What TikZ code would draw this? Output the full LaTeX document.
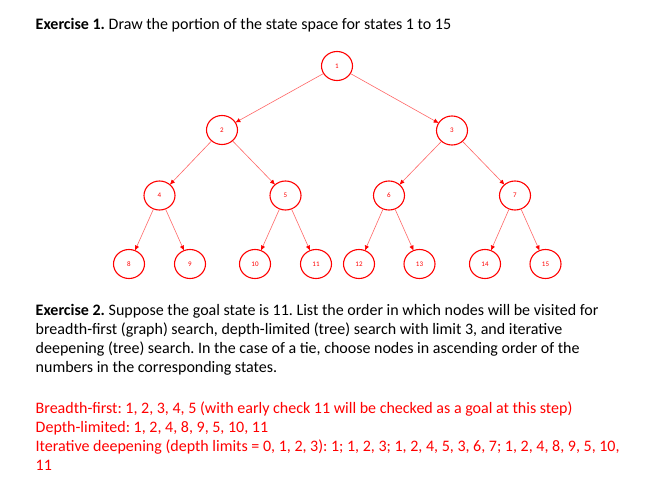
\documentclass[tikz,border=0pt]{standalone}
\usepackage{fontspec}
\setmainfont{Carlito}
\frenchspacing
\usetikzlibrary{arrows.meta,shapes.geometric}
\begin{document}
\begin{tikzpicture}[x=1pt,y=-1pt,
  st/.style={ellipse,draw=red,line width=1.1pt,minimum width=31pt,minimum height=29pt,inner sep=0pt,text=red,font=\fontsize{7}{8}\selectfont},
  ed/.style={draw=red!60,line width=0.6pt,-{Latex[length=5pt,width=4.5pt,color=red]},shorten >=-0.5pt},
  txt/.style={anchor=base west,inner sep=0pt,font=\fontsize{16}{19}\selectfont},
  rtxt/.style={txt,text=red}]
\useasboundingbox (0,0) rectangle (646,480);
\node[txt] (t1) at (35.5,29.5) {\textbf{Exercise 1.} Draw the portion of the state space for states 1 to 15};
\node[st] (n1) at (337,66) {1};
\node[st] (n2) at (222,130) {2};
\node[st] (n3) at (452,130.5) {3};
\node[st] (n4) at (159.5,195.5) {4};
\node[st] (n5) at (285.5,195.5) {5};
\node[st] (n6) at (389,195.5) {6};
\node[st] (n7) at (515,195.5) {7};
\node[st] (n8) at (129,264) {8};
\node[st] (n9) at (190,264) {9};
\node[st] (n10) at (255,264) {10};
\node[st] (n11) at (316,264) {11};
\node[st] (n12) at (359,264) {12};
\node[st] (n13) at (419.5,264) {13};
\node[st] (n14) at (485,264) {14};
\node[st] (n15) at (545.5,264) {15};
\draw[ed] (n1) -- (n2);
\draw[ed] (n1) -- (n3);
\draw[ed] (n2) -- (n4);
\draw[ed] (n2) -- (n5);
\draw[ed] (n3) -- (n6);
\draw[ed] (n3) -- (n7);
\draw[ed] (n4) -- (n8);
\draw[ed] (n4) -- (n9);
\draw[ed] (n5) -- (n10);
\draw[ed] (n5) -- (n11);
\draw[ed] (n6) -- (n12);
\draw[ed] (n6) -- (n13);
\draw[ed] (n7) -- (n14);
\draw[ed] (n7) -- (n15);
\node[txt] (e1) at (35.5,315.5) {\textbf{Exercise 2.} Suppose the goal state is 11. List the order in which nodes will be visited for};
\node[txt] (e2) at (35.5,334.5) {breadth-first (graph) search, depth-limited (tree) search with limit 3, and iterative};
\node[txt] (e3) at (35.5,353.5) {deepening (tree) search. In the case of a tie, choose nodes in ascending order of the};
\node[txt] (e4) at (35.5,372.5) {numbers in the corresponding states.};
\node[rtxt] (r1) at (35.5,413.5) {Breadth-first: 1, 2, 3, 4, 5 (with early check 11 will be checked as a goal at this step)};
\node[rtxt] (r2) at (35.5,432.3) {Depth-limited: 1, 2, 4, 8, 9, 5, 10, 11};
\node[rtxt] (r3) at (35.5,451) {Iterative deepening (depth limits = 0, 1, 2, 3): 1; 1, 2, 3; 1, 2, 4, 5, 3, 6, 7; 1, 2, 4, 8, 9, 5, 10,};
\node[rtxt] (r4) at (35.5,470) {11};
\end{tikzpicture}
\end{document}
